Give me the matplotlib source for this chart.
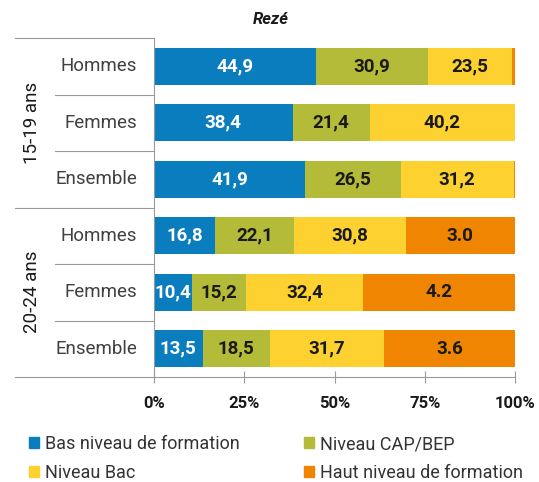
import matplotlib
matplotlib.use("Agg")
import matplotlib.pyplot as plt
from matplotlib.patches import Patch

# ================== DATA ==================
groups = ["15-19 ans", "20-24 ans"]
rows = ["Hommes", "Femmes", "Ensemble", "Hommes", "Femmes", "Ensemble"]

series = ["Bas niveau de formation", "Niveau CAP/BEP", "Niveau Bac", "Haut niveau de formation"]
bas = [44.9, 38.4, 41.9, 16.8, 10.4, 13.5]
cap = [30.9, 21.4, 26.5, 22.1, 15.2, 18.5]
bac = [23.5, 40.2, 31.2, 30.8, 32.4, 31.7]
haut = [0.7, 0.0, 0.4, 30.3, 42.0, 36.3]

bas_lbl = ["44,9", "38,4", "41,9", "16,8", "10,4", "13,5"]
cap_lbl = ["30,9", "21,4", "26,5", "22,1", "15,2", "18,5"]
bac_lbl = ["23,5", "40,2", "31,2", "30,8", "32,4", "31,7"]
haut_lbl = ["", "", "", "3.0", "4.2", "3.6"]

ticks = [0, 25, 50, 75, 100]
tick_lbl = ["0%", "25%", "50%", "75%", "100%"]
# ==========================================

COLORS = ["#0a7dbf", "#b4bb38", "#fdd12f", "#ef8500"]
TXT_COLORS = ["white", "#1a1a1a", "#1a1a1a", "#1a1a1a"]

plt.rcParams["font.family"] = ["Roboto", "DejaVu Sans"]

fig = plt.figure(figsize=(5.39, 4.82), dpi=100)
ax = fig.add_axes([154 / 539, 1 - 377 / 482, 361 / 539, 339 / 482])

y = list(range(len(rows)))
left = [0] * len(rows)
for vals, lbls, col, tcol in zip([bas, cap, bac, haut],
                                 [bas_lbl, cap_lbl, bac_lbl, haut_lbl],
                                 COLORS, TXT_COLORS):
    ax.barh(y, vals, left=left, height=0.66, color=col, linewidth=0)
    for i, (v, l) in enumerate(zip(vals, lbls)):
        if l:
            ax.text(left[i] + v / 2, i, l, ha="center", va="center",
                    color=tcol, fontsize=13.5, fontweight="bold")
    left = [a + b for a, b in zip(left, vals)]

ax.set_xlim(0, 100)
ax.set_ylim(5.5, -0.5)
ax.set_yticks([])
ax.set_xticks(ticks)
ax.set_xticklabels(tick_lbl, fontsize=12, fontweight="bold", color="#1a1a1a")
ax.tick_params(axis="x", direction="inout", length=9, width=0.8,
               color="#999999", pad=9)
for s in ["top", "right"]:
    ax.spines[s].set_visible(False)
ax.spines["left"].set_color("#999999")
ax.spines["bottom"].set_color("#999999")

# table-like row labels on the left
tr = ax.transAxes
x_far = (15 - 154) / 361
x_near = (55 - 154) / 361
line_kw = dict(transform=tr, clip_on=False, color="#999999", lw=0.8)
ax.plot([x_far, 0], [1, 1], **line_kw)
ax.plot([x_far, 0], [0, 0], **line_kw)
ax.plot([x_far, 0], [0.5, 0.5], **line_kw)
for k in [1, 2, 4, 5]:
    ax.plot([x_near, 0], [1 - k / 6, 1 - k / 6], **line_kw)

for i, r in enumerate(rows):
    ax.text((137 - 154) / 361, 1 - (i + 0.5) / 6, r, transform=tr, ha="right",
            va="center", fontsize=13.5, color="#404040")
for g, gy in zip(groups, [0.75, 0.25]):
    ax.text(-0.338, gy, g, transform=tr, ha="center", va="center",
            rotation=90, fontsize=13.5, color="#1a1a1a")

fig.text(0.503, 1 - 19 / 482, "Rezé", ha="center", va="center",
         fontsize=12, fontweight="bold", fontstyle="italic", color="#1a1a1a")

order = [0, 2, 1, 3]
handles = [Patch(color=COLORS[k], label=series[k]) for k in order]
fig.legend(handles=handles, loc="upper left", ncol=2, frameon=False,
           bbox_to_anchor=(22 / 539, 1 - 428 / 482), fontsize=13,
           handlelength=0.55, handleheight=0.55, handletextpad=0.3,
           columnspacing=3.6, labelspacing=0.6, borderaxespad=0,
           labelcolor="#333333")

fig.savefig("out.png", dpi=100)
